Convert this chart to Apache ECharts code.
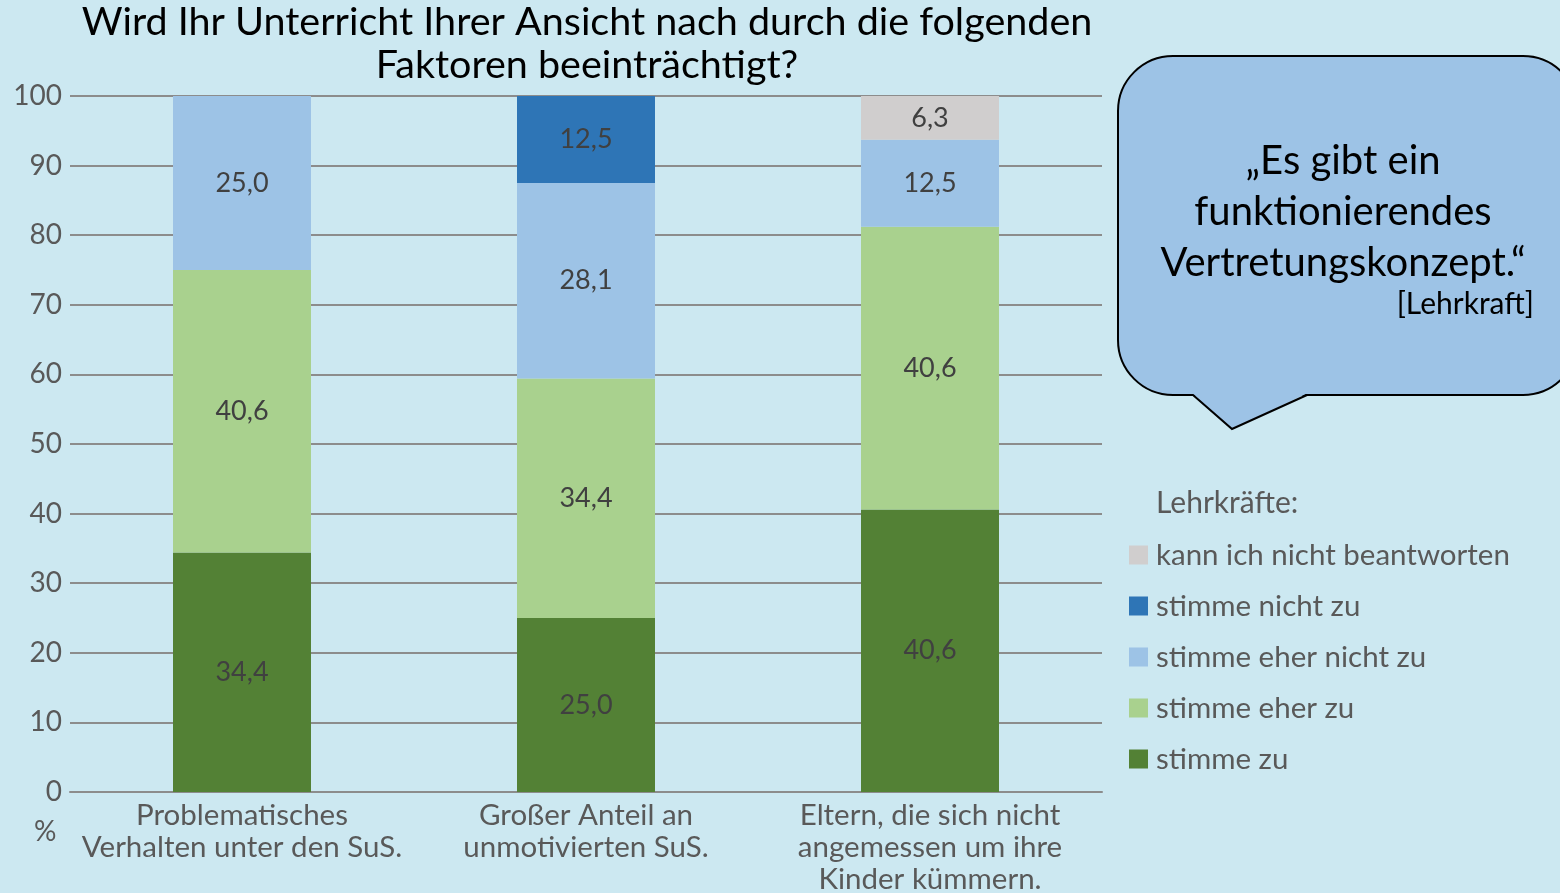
<!DOCTYPE html>
<html>
<head>
<meta charset="utf-8">
<script src="https://cdn.jsdelivr.net/npm/echarts@6/dist/echarts.min.js"></script>
<style>
  html, body { margin: 0; padding: 0; background: #cce8f1; }
  #chart { width: 1560px; height: 893px; }
</style>
</head>
<body>
<div id="chart"></div>
<script>
const categories = [
  'Problematisches\nVerhalten unter den SuS.',
  'Großer Anteil an\nunmotivierten SuS.',
  'Eltern, die sich nicht\nangemessen um ihre\nKinder kümmern.'
];
const stimmeZu = [34.4, 25.0, 40.6];
const stimmeEherZu = [40.6, 34.4, 40.6];
const stimmeEherNichtZu = [25.0, 28.1, 12.5];
const stimmeNichtZu = [null, 12.5, null];
const kannNicht = [null, null, 6.3];
const yTicks = [0, 10, 20, 30, 40, 50, 60, 70, 80, 90, 100];

const font = 'Lato, "Open Sans", sans-serif';
const bubbleBlue = '#9dc3e6';

function series(name, data, color) {
  return {
    name: name,
    type: 'bar',
    stack: 'total',
    barWidth: 138,
    data: data,
    itemStyle: { color: color },
    label: {
      show: true,
      position: 'inside',
      color: '#404040',
      fontFamily: font,
      fontSize: 27,
      formatter: (p) => p.value.toFixed(1).replace('.', ',')
    }
  };
}

const chart = echarts.init(document.getElementById('chart'));
chart.setOption({
  backgroundColor: '#cce8f1',
  animation: false,
  title: {
    text: 'Wird Ihr Unterricht Ihrer Ansicht nach durch die folgenden\nFaktoren beeinträchtigt?',
    left: 587,
    top: 1,
    padding: 0,
    textAlign: 'center',
    textStyle: { fontFamily: font, fontSize: 39.5, fontWeight: 'normal', color: '#000', lineHeight: 43 }
  },
  grid: { left: 70, right: 458, top: 96, bottom: 101, outerBoundsMode: 'none' },
  legend: {
    orient: 'vertical',
    left: 1129,
    top: 540,
    padding: 0,
    itemWidth: 19,
    itemHeight: 19,
    itemGap: 21,
    icon: 'rect',
    textStyle: { fontFamily: font, fontSize: 29.5, color: '#595959', lineHeight: 30, padding: [0, 0, 0, 3] },
    data: ['kann ich nicht beantworten', 'stimme nicht zu', 'stimme eher nicht zu', 'stimme eher zu', 'stimme zu']
  },
  xAxis: {
    type: 'category',
    data: categories,
    axisLine: { lineStyle: { color: '#8c8c8c', width: 2 } },
    axisTick: { show: false },
    axisLabel: { interval: 0, fontFamily: font, fontSize: 29.5, color: '#595959', lineHeight: 32, margin: 7 }
  },
  yAxis: {
    type: 'value',
    min: yTicks[0],
    max: yTicks[yTicks.length - 1],
    interval: 10,
    axisLine: { show: false },
    axisTick: { show: false },
    splitLine: { lineStyle: { color: '#8c8c8c', width: 2 } },
    axisLabel: { fontFamily: font, fontSize: 28, color: '#595959', margin: 8 }
  },
  series: [
    series('stimme zu', stimmeZu, '#538135'),
    series('stimme eher zu', stimmeEherZu, '#a9d18e'),
    series('stimme eher nicht zu', stimmeEherNichtZu, bubbleBlue),
    series('stimme nicht zu', stimmeNichtZu, '#2e75b6'),
    series('kann ich nicht beantworten', kannNicht, '#d0cece')
  ],
  graphic: [
    {
      type: 'text',
      x: 34,
      y: 818,
      style: { text: '%', fontFamily: font, fontSize: 28, fill: '#595959' }
    },
    {
      type: 'text',
      x: 1156,
      y: 488,
      style: { text: 'Lehrkräfte:', fontFamily: font, fontSize: 30, fill: '#595959' }
    },
    // speech bubble
    {
      type: 'rect',
      shape: { x: 1118, y: 56, width: 460, height: 339, r: 55 },
      style: { fill: bubbleBlue, stroke: '#000', lineWidth: 2 }
    },
    {
      type: 'polygon',
      shape: { points: [[1192, 393], [1232, 429], [1308, 393]] },
      style: { fill: bubbleBlue }
    },
    {
      type: 'polyline',
      shape: { points: [[1193, 395], [1232, 429], [1307, 395]] },
      style: { stroke: '#000', lineWidth: 2, fill: null }
    },
    {
      type: 'text',
      x: 1343,
      y: 136,
      style: {
        text: '„Es gibt ein\nfunktionierendes\nVertretungskonzept.“',
        fontFamily: font, fontSize: 40, fill: '#000', align: 'center', lineHeight: 51
      }
    },
    {
      type: 'text',
      x: 1534,
      y: 289,
      style: { text: '[Lehrkraft]', fontFamily: font, fontSize: 30, fill: '#000', align: 'right' }
    }
  ]
});
</script>
</body>
</html>
